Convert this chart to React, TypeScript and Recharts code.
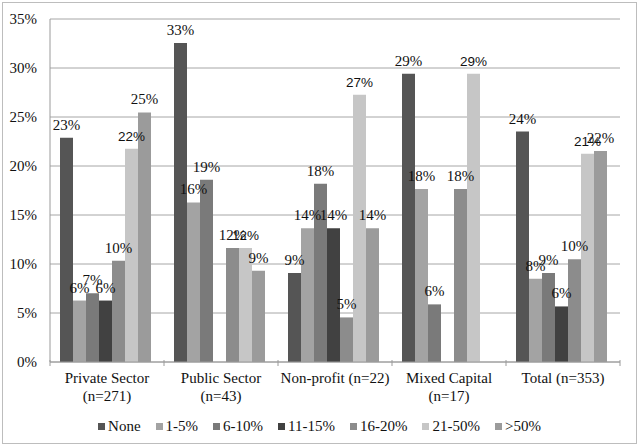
import React from 'react';
import { BarChart, Bar, XAxis, YAxis, CartesianGrid, Legend, LabelList } from 'recharts';

// Share of organisations by proportion band, per sector
const categories = ['Private Sector', 'Public Sector', 'Non-profit', 'Mixed Capital', 'Total'];
const categoryLines: string[][] = [
  ['Private Sector', '(n=271)'],
  ['Public Sector', '(n=43)'],
  ['Non-profit (n=22)'],
  ['Mixed Capital', '(n=17)'],
  ['Total (n=353)'],
];

const seriesNames = ['None', '1-5%', '6-10%', '11-15%', '16-20%', '21-50%', '>50%'];
const seriesColors = ['#555555', '#a3a3a3', '#7a7a7a', '#414141', '#8c8c8c', '#c6c6c6', '#9b9b9b'];

const noneValues = [22.88, 32.56, 9.09, 29.41, 23.51];
const band1to5 = [6.27, 16.28, 13.64, 17.65, 8.49];
const band6to10 = [7.01, 18.6, 18.18, 5.88, 9.07];
const band11to15 = [6.27, 0, 13.64, 0, 5.67];
const band16to20 = [10.33, 11.63, 4.55, 17.65, 10.48];
const band21to50 = [21.77, 11.63, 27.27, 29.41, 21.25];
const bandOver50 = [25.46, 9.3, 13.64, 0, 21.53];

const yTicks = [0, 5, 10, 15, 20, 25, 30, 35];

const seriesValues = [noneValues, band1to5, band6to10, band11to15, band16to20, band21to50, bandOver50];

const data = categories.map((c, i) => {
  const row: Record<string, any> = { category: c, idx: i };
  seriesNames.forEach((s, k) => {
    row[s] = seriesValues[k][i];
  });
  return row;
});

const SERIF = 'Liberation Serif';
const SANS = 'Liberation Sans';

const makeLabel = (font: string, size: number) => (props: any) => {
  const { x, y, width, value } = props;
  if (!value) return null;
  return (
    <text
      x={x + width / 2}
      y={y - 8}
      textAnchor="middle"
      fontFamily={font}
      fontSize={size}
      fill="#111"
    >
      {Math.round(value)}%
    </text>
  );
};

const CategoryTick = (props: any) => {
  const { x, y, payload, index } = props;
  const lines = categoryLines[payload.index ?? index] || [payload.value];
  const half = 57;
  return (
    <g>
      <line x1={x - half} y1={y - 10} x2={x - half} y2={y - 4} stroke="#9a9a9a" />
      {index === categories.length - 1 && (
        <line x1={x + half} y1={y - 10} x2={x + half} y2={y - 4} stroke="#9a9a9a" />
      )}
      {lines.map((l: string, i: number) => (
        <text
          key={i}
          x={x}
          y={y + 13 + i * 18}
          textAnchor="middle"
          fontFamily={SERIF}
          fontSize={15}
          fill="#111"
        >
          {l}
        </text>
      ))}
    </g>
  );
};

const LegendContent = () => (
  <div
    style={{
      display: 'flex',
      justifyContent: 'center',
      alignItems: 'center',
      fontFamily: SERIF,
      fontSize: 15,
      color: '#111',
    }}
  >
    {seriesNames.map((s, i) => (
      <div key={s} style={{ display: 'flex', alignItems: 'center', marginRight: i < seriesNames.length - 1 ? 15 : 0 }}>
        <span style={{ width: 7, height: 7, background: seriesColors[i], display: 'inline-block', marginRight: 3 }} />
        <span>{s}</span>
      </div>
    ))}
  </div>
);

export default function App() {
  return (
    <div style={{ position: 'absolute', left: 0, top: 0, width: 639, height: 445, background: '#fff' }}>
      <div
        style={{
          position: 'absolute',
          left: 2,
          top: 2,
          width: 633,
          height: 440,
          border: '1px solid #bdbdbd',
        }}
      />
      <div style={{ position: 'absolute', left: 0, top: 0 }}>
        <BarChart
          width={639}
          height={445}
          data={data}
          margin={{ top: 19, right: 19, left: 0, bottom: 43 }}
          barCategoryGap={10}
          barGap={0}
        >
          <CartesianGrid vertical={false} stroke="#a6a6a6" />
          <XAxis
            dataKey="category"
            height={40}
            axisLine={{ stroke: '#9a9a9a' }}
            tickLine={false}
            interval={0}
            tick={<CategoryTick />}
          />
          <YAxis
            width={50}
            domain={[0, 35]}
            ticks={yTicks}
            tickFormatter={(v: number) => `${v}%`}
            axisLine={{ stroke: '#9a9a9a' }}
            tickLine={false}
            tickSize={0}
            tickMargin={13}
            tick={{ fontFamily: SERIF, fontSize: 15, fill: '#111' }}
          />
          <Legend
            layout="horizontal"
            verticalAlign="middle"
            align="center"
            wrapperStyle={{ top: 418, left: 0, width: 639 }}
            content={<LegendContent />}
          />
          {seriesNames.map((s, i) => (
            <Bar key={s} dataKey={s} fill={seriesColors[i]} isAnimationActive={false}>
              <LabelList
                dataKey={s}
                content={makeLabel(s === '21-50%' ? SANS : SERIF, s === '21-50%' ? 13.5 : 15)}
              />
            </Bar>
          ))}
        </BarChart>
      </div>
    </div>
  );
}
